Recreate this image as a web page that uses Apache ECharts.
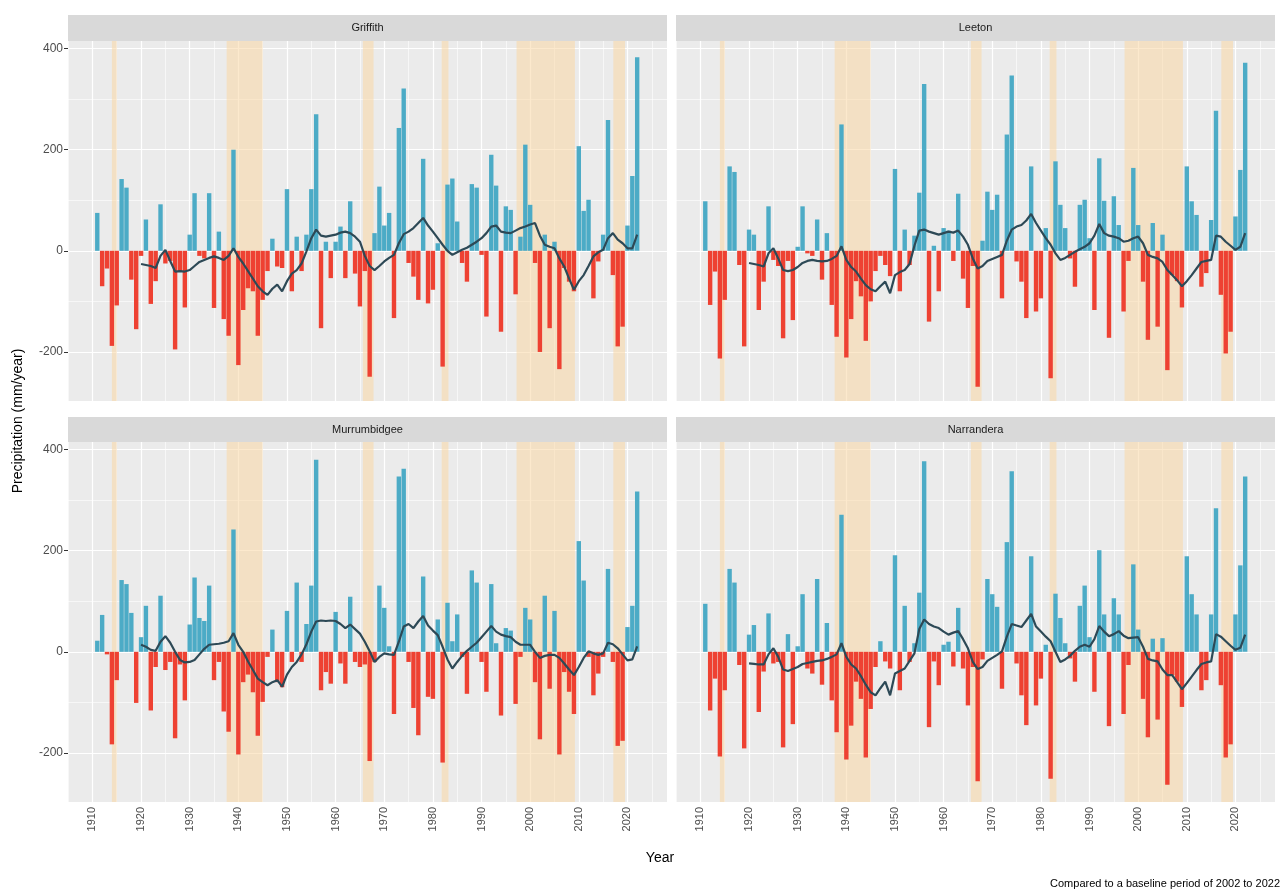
<!DOCTYPE html>
<html>
<head>
<meta charset="utf-8">
<script src="https://cdn.jsdelivr.net/npm/echarts@6/dist/echarts.min.js"></script>
<style>
html,body{margin:0;padding:0;background:#fff;}
#chart{width:1285px;height:894px;}
</style>
</head>
<body>
<div id="chart"></div>
<script>
// ---------------- DATA ----------------
const firstYear = 1911;   // bars cover 1911..2022
const trendStartYear = 1920; // trend line covers 1920..2022

const panelNames = ["Griffith", "Leeton", "Murrumbidgee", "Narrandera"];

const griffithBars = [
  75, -70, -35, -188, -108, 142, 125, -57, -155,            // 1911-1919
  -10, 62, -105, -60, 92, -25, -20, -195, -40, -112,         // 1920s
  32, 114, -10, -15, 114, -113, 38, -135, -168, 200,         // 1930s
  -226, -117, -74, -80, -168, -97, -40, 24, -31, -34,        // 1940s
  122, -80, 28, -40, 32, 122, 270, -153, 18, -54,            // 1950s
  18, 48, -54, 98, -45, -110, -40, -249, 35, 127,            // 1960s
  50, 75, -133, 243, 321, -24, -51, -97, 182, -104,          // 1970s
  -77, 15, -229, 131, 143, 58, -24, -61, 132, 125,           // 1980s
  -8, -130, 190, 129, -160, 88, 81, -86, 28, 210,            // 1990s
  91, -24, -200, 32, -153, 18, -234, -34, -61, -80,          // 2000s
  207, 79, 101, -94, -21, 32, 259, -48, -189, -150,          // 2010s
  50, 148, 383                                               // 2020-2022
];
const leetonBars = [
  98, -107, -41, -213, -97, 167, 156, -28, -189,
  42, 32, -117, -61, 88, -18, -30, -173, -20, -137,
  8, 88, -5, -10, 62, -57, 35, -107, -170, 250,
  -211, -135, -60, -90, -178, -100, -40, -10, -28, -50,
  162, -80, 42, -28, 30, 115, 330, -140, 10, -80,
  45, 40, -20, 113, -55, -113, -30, -269, 20, 117,
  81, 111, -94, 230, 347, -21, -61, -133, 167, -120,
  -94, 45, -252, 177, 91, 45, -15, -71, 91, 101,
  25, -117, 183, 99, -172, 108, 51, -120, -20, 164,
  51, -61, -176, 55, -150, 32, -236, -48, -60, -112,
  167, 98, 71, -71, -44, 61, 277, -87, -203, -160,
  68, 160, 372
];
const murrumbidgeeBars = [
  22, 73, -5, -183, -56, 142, 134, 77, -101,
  29, 91, -116, -30, 111, -36, -20, -171, -25, -96,
  54, 147, 67, 61, 131, -56, -20, -118, -158, 242,
  -203, -60, -45, -80, -166, -99, -10, 44, -60, -70,
  81, -20, 137, -20, 55, 131, 380, -76, -40, -63,
  79, -23, -63, 109, -20, -30, -25, -216, -20, 131,
  87, 11, -123, 347, 362, -20, -111, -165, 149, -89,
  -93, 64, -219, 97, 21, 74, -10, -83, 161, 137,
  -20, -79, 134, 17, -126, 47, 42, -103, -10, 87,
  64, -60, -173, 111, -73, 81, -203, -40, -79, -123,
  219, 141, -10, -86, -43, -10, 164, -20, -186, -176,
  49, 91, 317
];
const narranderaBars = [
  95, -116, -53, -207, -76, 164, 137, -26, -191,
  34, 53, -119, -39, 76, -23, -20, -189, 35, -143,
  11, 114, -33, -43, 144, -65, 57, -96, -159, 271,
  -213, -146, -59, -93, -209, -113, -30, 21, -19, -33,
  191, -76, 91, -20, 17, 117, 377, -149, -19, -66,
  14, 20, -29, 87, -33, -106, -30, -256, -15, 144,
  114, 89, -73, 217, 357, -23, -86, -145, 189, -106,
  -53, 14, -251, 115, 67, 17, -13, -59, 91, 131,
  29, -79, 201, 74, -147, 106, 74, -123, -26, 173,
  44, -93, -169, 26, -134, 27, -263, -46, -59, -109,
  189, 114, 74, -76, -56, 74, 284, -66, -209, -183,
  74, 171, 347
];

const griffithTrend = [
  -26, -28, -30, -34, -10, 2, -20, -41, -40, -41,
  -38, -30, -22, -18, -14, -11, -14, -18, -10, 5,
  -12, -25, -40, -55, -70, -80, -87, -75, -67, -80,
  -60, -45, -38, -25, -1, 25, 42, 30, 28, 30,
  32, 36, 38, 35, 28, 18, -10, -30, -38, -30,
  -21, -14, -8, 15, 33, 38, 45, 55, 65, 50,
  38, 25, 12, 0, -8, -3, 2, 6, 12, 18,
  25, 35, 48, 50, 38, 36, 35, 40, 45, 48,
  52, 55, 30, 12, 8, 5, -15, -31, -55, -77,
  -60, -48, -30, -11, -3, 2, 25, 35, 22, 15,
  5, 5, 32
];
const leetonTrend = [
  -24, -26, -28, -31, -5, 5, -15, -38, -40, -38,
  -32, -24, -20, -18, -20, -21, -20, -16, -10, 9,
  -18, -32, -41, -55, -68, -76, -80, -70, -61, -84,
  -48, -42, -38, -26, 10, 40, 42, 38, 35, 32,
  35, 38, 36, 40, 28, 12, -15, -35, -30, -20,
  -16, -12, -8, 20, 42, 48, 51, 60, 73, 55,
  40, 25, 12, -5, -18, -14, -8, -2, 3, 8,
  15, 30, 53, 35, 30, 28, 25, 18, 20, 25,
  28, 15, -8, -12, -15, -22, -38, -48, -58, -70,
  -60, -48, -35, -22, -20, -18, 30, 28, 18, 10,
  2, 8, 35
];
const murrumbidgeeTrend = [
  14, 10, 4, 2, 20, 31, 18, 0, -16, -21,
  -20, -16, -5, 6, 14, 15, 16, 18, 21, 37,
  14, 0, -19, -36, -53, -60, -66, -60, -56, -69,
  -45, -30, -20, -5, 15, 40, 60, 62, 61, 62,
  61, 55, 47, 54, 45, 36, 20, 1, -20, -10,
  -3, -5, -6, 20, 50, 55, 47, 60, 71, 52,
  42, 33, 10, -15, -33, -20, -8, 2, 10, 18,
  29, 40, 51, 40, 34, 31, 29, 20, 14, 14,
  14, 0, -12, -8, -6, -6, -12, -23, -35, -46,
  -30, -12, 1, -3, -6, -3, 18, 15, 7, -5,
  -17, -15, 11
];
const narranderaTrend = [
  -23, -24, -25, -25, -5, 7, -10, -35, -38, -34,
  -30, -24, -22, -20, -18, -17, -14, -10, -5, 17,
  -10, -25, -33, -48, -65, -80, -86, -72, -59, -86,
  -43, -38, -33, -18, -3, 45, 64, 55, 50, 47,
  40, 34, 38, 41, 25, 7, -20, -34, -30, -18,
  -12, -6, 1, 30, 55, 52, 49, 62, 75, 50,
  40, 30, 21, 0, -20, -15, -8, 2, 10, 14,
  10, 25, 51, 40, 31, 35, 41, 32, 27, 28,
  29, 10, -14, -17, -19, -35, -46, -46, -60, -74,
  -62, -49, -36, -24, -21, -19, 35, 30, 21, 12,
  4, 8, 34
];

// drought periods (shaded)
const droughtStarts = [1914, 1937.6, 1965.6, 1981.8, 1997.2, 2017.1];
const droughtEnds   = [1915, 1945.0, 1967.8, 1983.2, 2009.2, 2019.5];

// tick labels / gridlines
const xTickYears = [1910, 1920, 1930, 1940, 1950, 1960, 1970, 1980, 1990, 2000, 2010, 2020];
const xMinorYears = [1905, 1915, 1925, 1935, 1945, 1955, 1965, 1975, 1985, 1995, 2005, 2015, 2025];
const yTickValues = [-200, 0, 200, 400];
const yMinorValues = [-100, 100, 300];

// ---------------- STYLE / LAYOUT ----------------
const BLUE = '#4cabc6';
const RED = '#ee4132';
const LINE = '#2d4956';
const SHADE = 'rgba(250,215,165,0.56)';
const PANEL_BG = '#ebebeb';
const FONT = 'Liberation Sans, Arial, sans-serif';

const X_MIN = 1904.98, X_MAX = 2028.13;
const Y_MIN = -297, Y_MAX = 415;

const panelBoxes = [
  {left: 68,  top: 41,  width: 599, height: 360, strip: 15,  stripH: 26},
  {left: 676, top: 41,  width: 599, height: 360, strip: 15,  stripH: 26},
  {left: 68,  top: 442, width: 599, height: 360, strip: 417, stripH: 25},
  {left: 676, top: 442, width: 599, height: 360, strip: 417, stripH: 25}
];

const barSets = [griffithBars, leetonBars, murrumbidgeeBars, narranderaBars];
const trendSets = [griffithTrend, leetonTrend, murrumbidgeeTrend, narranderaTrend];

const grids = [], xAxes = [], yAxes = [], series = [], graphics = [];

panelBoxes.forEach((b, i) => {
  const isBottom = i >= 2, isLeft = (i % 2) === 0;
  grids.push({left: b.left, top: b.top, width: b.width, height: b.height,
    show: true, backgroundColor: PANEL_BG, borderWidth: 0, containLabel: false});
  xAxes.push({
    gridIndex: i, type: 'value', min: X_MIN, max: X_MAX,
    axisLine: {show: false},
    splitLine: {show: false},
    axisTick: {show: isBottom, customValues: xTickYears, length: 4, lineStyle: {color: '#333', width: 1}},
    axisLabel: {show: isBottom, customValues: xTickYears, rotate: 90, color: '#4d4d4d',
      fontSize: 11, fontFamily: FONT, margin: 5, formatter: v => String(Math.round(v))}
  });
  yAxes.push({
    gridIndex: i, type: 'value', min: Y_MIN, max: Y_MAX,
    axisLine: {show: false},
    splitLine: {show: false},
    axisTick: {show: isLeft, customValues: yTickValues, length: 4, lineStyle: {color: '#333', width: 1}},
    axisLabel: {show: isLeft, customValues: yTickValues, color: '#4d4d4d',
      fontSize: 12, fontFamily: FONT, margin: 5, formatter: v => String(Math.round(v))}
  });

  // gridlines
  const gl = [];
  xTickYears.forEach(v => gl.push({xAxis: v, lineStyle: {color: '#fff', width: 1.2, type: 'solid'}}));
  xMinorYears.forEach(v => gl.push({xAxis: v, lineStyle: {color: '#fff', width: 0.6, type: 'solid'}}));
  yTickValues.forEach(v => gl.push({yAxis: v, lineStyle: {color: '#fff', width: 1.2, type: 'solid'}}));
  yMinorValues.forEach(v => gl.push({yAxis: v, lineStyle: {color: '#fff', width: 0.6, type: 'solid'}}));
  series.push({
    type: 'line', xAxisIndex: i, yAxisIndex: i, data: [], z: 1, silent: true,
    markLine: {z: 1, silent: true, symbol: ['none', 'none'], label: {show: false}, animation: false, data: gl}
  });
  // drought shading
  series.push({
    type: 'line', xAxisIndex: i, yAxisIndex: i, data: [], z: 2, silent: true,
    markArea: {z: 2, silent: true, itemStyle: {color: SHADE}, label: {show: false}, animation: false,
      data: droughtStarts.map((s, k) => [{xAxis: s}, {xAxis: droughtEnds[k]}])}
  });
  // bars
  series.push({
    type: 'bar', xAxisIndex: i, yAxisIndex: i, z: 10, barWidth: 4.4, animation: false,
    data: barSets[i].map((v, k) => [firstYear + k, v]),
    itemStyle: {color: p => p.value[1] >= 0 ? BLUE : RED}
  });
  // trend line
  series.push({
    type: 'line', xAxisIndex: i, yAxisIndex: i, z: 11, showSymbol: false, animation: false,
    data: trendSets[i].map((v, k) => [trendStartYear + k, v]),
    lineStyle: {color: LINE, width: 2.2}
  });

  // strip
  graphics.push({type: 'rect', shape: {x: b.left, y: b.strip, width: b.width, height: b.stripH},
    style: {fill: '#d9d9d9'}, silent: true});
  graphics.push({type: 'text', x: b.left + b.width / 2, y: b.strip + b.stripH / 2,
    style: {text: panelNames[i], fill: '#1a1a1a', font: '11px ' + FONT, align: 'center', verticalAlign: 'middle'}});
});

graphics.push({type: 'text', x: 660, y: 858,
  style: {text: 'Year', fill: '#000', font: '14px ' + FONT, align: 'center', verticalAlign: 'middle'}});
graphics.push({type: 'text', x: 18, y: 421, rotation: Math.PI / 2,
  style: {text: 'Precipitation (mm/year)', fill: '#000', font: '14px ' + FONT, align: 'center', verticalAlign: 'middle'}});
graphics.push({type: 'text', x: 1280, y: 884,
  style: {text: 'Compared to a baseline period of 2002 to 2022', fill: '#000', font: '11px ' + FONT, align: 'right', verticalAlign: 'middle'}});

const chart = echarts.init(document.getElementById('chart'), null, {renderer: 'canvas'});
chart.setOption({
  animation: false,
  backgroundColor: '#fff',
  grid: grids, xAxis: xAxes, yAxis: yAxes, series: series, graphic: graphics
});
</script>
</body>
</html>
